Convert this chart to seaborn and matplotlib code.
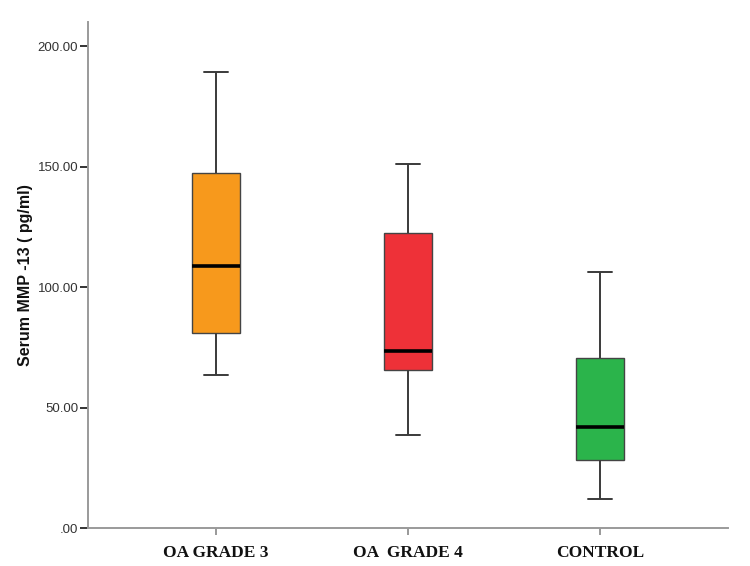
import numpy as np
import pandas as pd
import matplotlib
matplotlib.use("Agg")
import matplotlib.pyplot as plt
import seaborn as sns
from matplotlib.ticker import FuncFormatter

# groups and five-number summaries (min, q1, median, q3, max)
groups = ["OA GRADE 3", "OA  GRADE 4", "CONTROL"]
grade3 = [63.7, 81.0, 108.6, 147.4, 189.2]
grade4 = [38.7, 65.7, 73.6, 122.5, 150.9]
control = [12.2, 28.1, 41.9, 70.6, 106.1]
colors = ["#F7991C", "#EE3138", "#2BB44B"]
yticks = [0, 50, 100, 150, 200]

df = pd.DataFrame({
    "group": np.repeat(groups, 5),
    "value": grade3 + grade4 + control,
})

sns.set_style("white")

fig = plt.figure(figsize=(7.5, 5.66), dpi=100)
ax = fig.add_axes([0.1173, 0.0671, 0.8534, 0.894])

sns.boxplot(
    data=df, x="group", y="value", hue="group", order=groups,
    palette=colors, saturation=1, legend=False, dodge=False, width=0.25,
    whis=(0, 100), showfliers=False, ax=ax,
    boxprops=dict(edgecolor="#444444", linewidth=1.0),
    medianprops=dict(color="black", linewidth=2.6),
    whiskerprops=dict(color="#3a3a3a", linewidth=1.4),
    capprops=dict(color="#3a3a3a", linewidth=1.4),
)

ax.set_xlim(-0.667, 2.667)
ax.set_ylim(0, 210)
ax.set_yticks(yticks)
ax.yaxis.set_major_formatter(
    FuncFormatter(lambda v, p: ".00" if v == 0 else f"{v:.2f}"))

for s in ["top", "right"]:
    ax.spines[s].set_visible(False)
for s in ["left", "bottom"]:
    ax.spines[s].set_color("#9a9a9a")
    ax.spines[s].set_linewidth(1.4)

ax.tick_params(axis="y", left=True, length=6, width=1.4, color="#333333",
               labelsize=9.5, labelcolor="#333333", pad=1)
ax.tick_params(axis="x", bottom=True, length=5, width=1.2, color="#888888",
               pad=7)
for lbl in ax.get_yticklabels():
    lbl.set_family("Liberation Sans")
for lbl in ax.get_xticklabels():
    lbl.set_family("Liberation Serif")
    lbl.set_fontweight("bold")
    lbl.set_fontsize(12.5)
    lbl.set_color("#111111")

ax.set_xlabel("")
ax.set_ylabel("Serum MMP -13 ( pg/ml)", fontsize=11.5, fontweight="bold",
              family="Liberation Sans", labelpad=3, color="#111111")

fig.savefig("out.png", dpi=100, facecolor="white")
